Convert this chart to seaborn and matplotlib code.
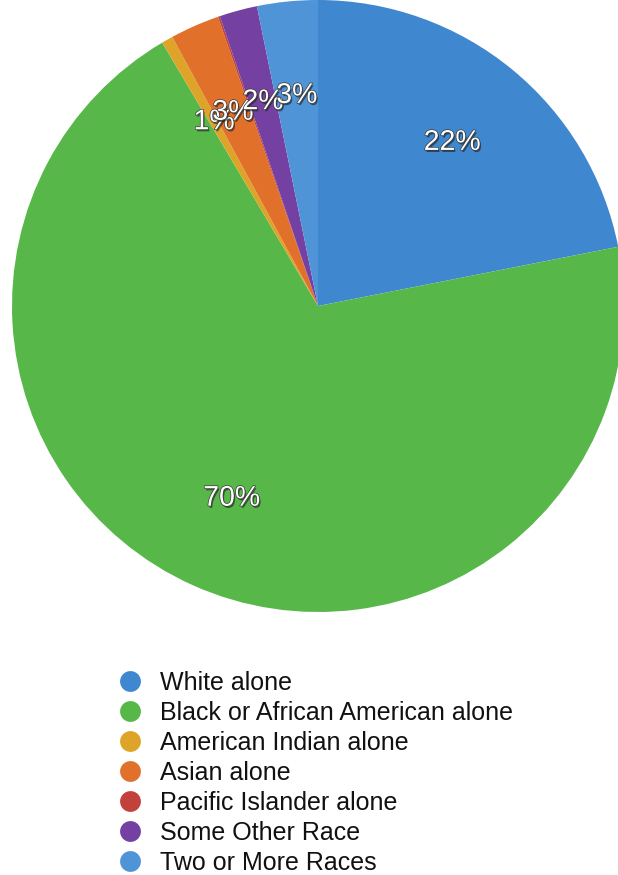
import matplotlib
matplotlib.use("Agg")
import matplotlib.pyplot as plt
import matplotlib.patheffects as pe
from matplotlib.lines import Line2D
import seaborn as sns

# Population share by race
categories = [
    "White alone",
    "Black or African American alone",
    "American Indian alone",
    "Asian alone",
    "Pacific Islander alone",
    "Some Other Race",
    "Two or More Races",
]
shares = [21.9, 69.6, 0.6, 2.6, 0.1, 2.0, 3.2]
colors = ["#3f87cf", "#57b849", "#dea42a", "#e0702a", "#c2413a", "#7441a2", "#5094d8"]

sns.set_theme(style="white")
plt.rcParams["font.family"] = ["Liberation Sans", "DejaVu Sans"]
palette = sns.color_palette(colors)

W, H = 618, 875
fig = plt.figure(figsize=(W / 100, H / 100), dpi=100)

# pie centred at (318, 306) px with radius 306 px
cx, cy, r = 318, 306, 306
ax = fig.add_axes([(cx - r) / W, (H - cy - r) / H, 2 * r / W, 2 * r / H])


def fmt(p):
    return f"{p:.0f}%" if p >= 0.5 else ""


wedges, _, autotexts = ax.pie(
    shares,
    colors=palette,
    startangle=90,
    counterclock=False,
    radius=1,
    autopct=fmt,
    pctdistance=0.69,
    wedgeprops=dict(linewidth=0),
)
ax.set_xlim(-1, 1)
ax.set_ylim(-1, 1)
ax.set_aspect("equal")
ax.axis("off")

for t in autotexts:
    t.set_color("white")
    t.set_fontsize(20.5)
    t.set_path_effects([
        pe.withSimplePatchShadow(offset=(1, -1.5), shadow_rgbFace="#1a1a1a", alpha=0.6),
        pe.Stroke(linewidth=1.0, foreground="#3a3a3a"),
        pe.Normal(),
    ])

handles = [
    Line2D([], [], linestyle="none", marker="o", markersize=15,
           markerfacecolor=c, markeredgewidth=0)
    for c in palette
]
fig.legend(
    handles, categories,
    loc="upper left",
    bbox_to_anchor=(117 / W, 1 - 671 / H),
    frameon=False,
    fontsize=18,
    labelcolor="#111111",
    handlelength=1.0,
    handletextpad=0.7,
    labelspacing=0.24,
    borderpad=0,
    borderaxespad=0,
)

fig.savefig("out.png", dpi=100)
